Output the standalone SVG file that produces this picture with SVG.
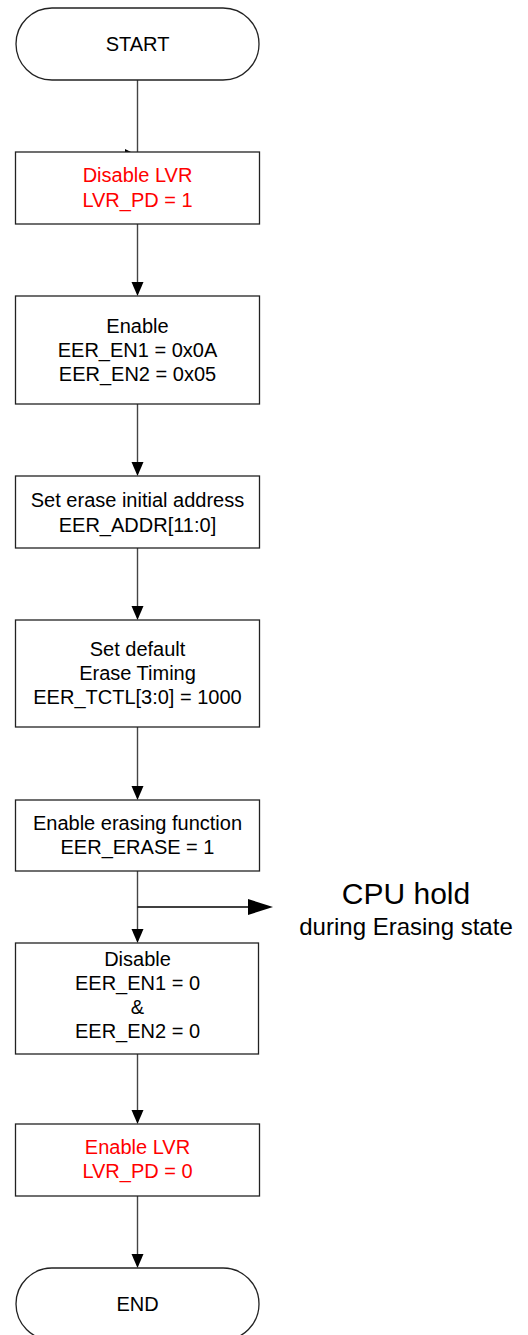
<svg xmlns="http://www.w3.org/2000/svg" width="528" height="1335" viewBox="0 0 528 1335">
<defs>
<style>
.box{fill:#fff;stroke:#222;stroke-width:1.3}
.t{font-family:"Liberation Sans",Arial,sans-serif;font-size:20px;fill:#000;text-anchor:middle}
.r{fill:#f00}
.c{stroke:#444;stroke-width:1.4;fill:none}
</style>
<marker id="ah" markerUnits="userSpaceOnUse" markerWidth="12" markerHeight="14" refX="6" refY="14" orient="auto-start-reverse" viewBox="0 0 12 14">
<path d="M0,0 L12,0 L6,14 Z" fill="#000"/>
</marker>
</defs>
<g id="connectors">
<line class="c" x1="137.5" y1="80" x2="137.5" y2="152"/>
<polygon points="125,149 131,152 125,152" fill="#000"/>
<line class="c" x1="137.5" y1="224" x2="137.5" y2="282"/>
<path d="M131.5,282 L143.5,282 L137.5,296 Z" fill="#000"/>
<line class="c" x1="137.5" y1="404" x2="137.5" y2="462"/>
<path d="M131.5,462 L143.5,462 L137.5,476 Z" fill="#000"/>
<line class="c" x1="137.5" y1="548" x2="137.5" y2="606"/>
<path d="M131.5,606 L143.5,606 L137.5,620 Z" fill="#000"/>
<line class="c" x1="137.5" y1="727" x2="137.5" y2="786"/>
<path d="M131.5,786 L143.5,786 L137.5,800 Z" fill="#000"/>
<line class="c" x1="137.5" y1="871" x2="137.5" y2="929"/>
<path d="M131.5,929 L143.5,929 L137.5,943 Z" fill="#000"/>
<line x1="137.5" y1="907" x2="250" y2="907" stroke="#000" stroke-width="1.6"/>
<path d="M248,899 L273,907 L248,915 Z" fill="#000"/>
<line class="c" x1="137.5" y1="1054" x2="137.5" y2="1110"/>
<path d="M131.5,1110 L143.5,1110 L137.5,1124 Z" fill="#000"/>
<line class="c" x1="137.5" y1="1196" x2="137.5" y2="1254"/>
<path d="M131.5,1254 L143.5,1254 L137.5,1268 Z" fill="#000"/>
</g>
<g id="start">
<rect class="box" x="16" y="8" width="243" height="72" rx="36" ry="36"/>
<text class="t" x="137.5" y="51">START</text>
</g>
<g id="disable-lvr">
<rect class="box" x="15.5" y="152" width="244" height="72"/>
<text class="t r" x="137.5" y="182">Disable LVR</text>
<text class="t r" x="137.5" y="207">LVR_PD = 1</text>
</g>
<g id="enable">
<rect class="box" x="15.5" y="296" width="244" height="108"/>
<text class="t" x="137.5" y="333">Enable</text>
<text class="t" x="137.5" y="357">EER_EN1 = 0x0A</text>
<text class="t" x="137.5" y="381">EER_EN2 = 0x05</text>
</g>
<g id="set-address">
<rect class="box" x="15.5" y="476" width="244" height="72"/>
<text class="t" x="137.5" y="507">Set erase initial address</text>
<text class="t" x="137.5" y="532">EER_ADDR[11:0]</text>
</g>
<g id="set-timing">
<rect class="box" x="15.5" y="620" width="244" height="107"/>
<text class="t" x="137.5" y="656">Set default</text>
<text class="t" x="137.5" y="680">Erase Timing</text>
<text class="t" x="137.5" y="704">EER_TCTL[3:0] = 1000</text>
</g>
<g id="enable-erase">
<rect class="box" x="15.5" y="800" width="244" height="71"/>
<text class="t" x="137.5" y="830">Enable erasing function</text>
<text class="t" x="137.5" y="854">EER_ERASE = 1</text>
</g>
<g id="cpu-hold">
<text class="t" x="406" y="904" style="font-size:30px">CPU hold</text>
<text class="t" x="406" y="935" style="font-size:24px">during Erasing state</text>
</g>
<g id="disable">
<rect class="box" x="15.5" y="943" width="243" height="111"/>
<text class="t" x="137.5" y="966">Disable</text>
<text class="t" x="137.5" y="990">EER_EN1 = 0</text>
<text class="t" x="137.5" y="1014">&amp;</text>
<text class="t" x="137.5" y="1038">EER_EN2 = 0</text>
</g>
<g id="enable-lvr">
<rect class="box" x="15.5" y="1124" width="244" height="72"/>
<text class="t r" x="137.5" y="1154">Enable LVR</text>
<text class="t r" x="137.5" y="1178">LVR_PD = 0</text>
</g>
<g id="end">
<rect class="box" x="16" y="1268" width="243" height="72" rx="36" ry="36"/>
<text class="t" x="137.5" y="1311">END</text>
</g>
</svg>
